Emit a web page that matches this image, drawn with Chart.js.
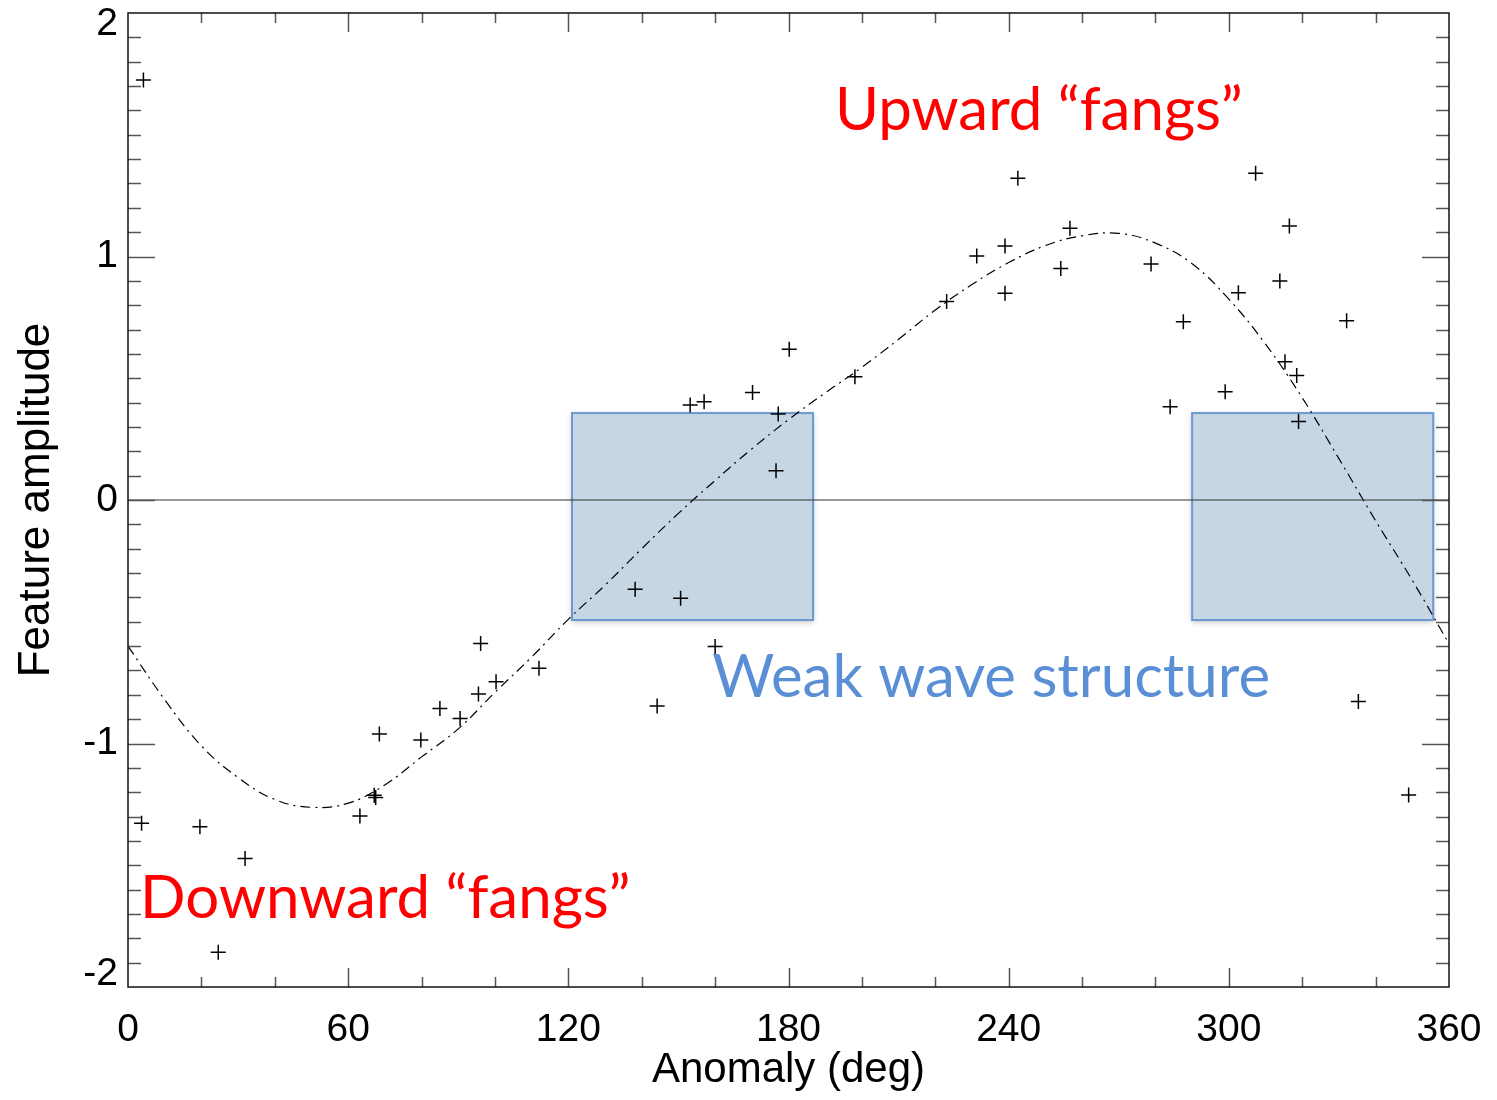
<!DOCTYPE html>
<html>
<head>
<meta charset="utf-8">
<script src="https://cdn.jsdelivr.net/npm/chart.js@4.4.1/dist/chart.umd.min.js"></script>
<style>
  html, body { margin: 0; padding: 0; background: #fff; }
</style>
</head>
<body>
<canvas id="myChart" width="1497" height="1100"></canvas>
<script>
// measured features
const anomaly = [4.2, 3.7, 19.6, 24.6, 31.9, 63.2, 67.1, 67.5, 68.5, 79.8, 85.0, 90.5, 96.1, 95.5,
  100.3, 112.0, 138.2, 144.2, 150.6, 160.0, 153.2, 157.0, 170.2, 177.2, 176.6, 180.2, 198.1,
  223.1, 231.3, 239.0, 239.0, 242.5, 254.2, 256.7, 278.8, 284.0, 287.6, 299.0, 302.6, 307.3,
  313.9, 316.5, 315.3, 318.5, 319.0, 332.1, 335.3, 349.0];
const amplitude = [1.725, -1.328, -1.342, -1.857, -1.472, -1.298, -1.213, -1.222, -0.961, -0.986,
  -0.856, -0.897, -0.589, -0.797, -0.746, -0.691, -0.367, -0.846, -0.404, -0.602, 0.390, 0.404,
  0.441, 0.353, 0.120, 0.619, 0.506, 0.815, 1.002, 1.043, 0.849, 1.321, 0.951, 1.116, 0.969,
  0.383, 0.732, 0.445, 0.851, 1.342, 0.899, 1.125, 0.568, 0.511, 0.322, 0.736, -0.828, -1.211];

// fitted curve, every 10 deg
const fitAnomaly = [0, 10, 20, 30, 40, 50, 60, 70, 80, 90, 100, 110, 120, 130, 140, 150, 160, 170, 180,
  190, 200, 210, 220, 230, 240, 250, 260, 270, 280, 290, 300, 310, 320, 330, 340, 350, 360];
const fitAmplitude = [-0.60, -0.82, -1.01, -1.14, -1.23, -1.262, -1.245, -1.17, -1.055, -0.94, -0.79,
  -0.645, -0.49, -0.35, -0.20, -0.055, 0.08, 0.21, 0.33, 0.44, 0.545, 0.66, 0.78, 0.885, 0.975,
  1.045, 1.085, 1.095, 1.055, 0.97, 0.825, 0.64, 0.42, 0.17, -0.085, -0.33, -0.59];

// shaded ranges: [from deg, to deg, low, high]
const weakRanges = [[121.0, 186.7, -0.493, 0.357], [290.0, 355.7, -0.493, 0.357]];

// text notes: [text, deg, amplitude (baseline), colour]
const notes = [
  ['Upward \u201cfangs\u201d', 192.7, 1.52, '#ff0000'],
  ['Downward \u201cfangs\u201d', 3.3, -1.717, '#ff0000'],
  ['Weak wave structure', 159.2, -0.81, '#5b8fd5']
];

const xMinorStep = 20, xMajorStep = 60;
const yMinorStep = 0.1;

const axisFont = '"Liberation Sans", Arial, Helvetica, sans-serif';
const noteFont = 'Lato, "Open Sans", sans-serif';

const rangesPlugin = {
  id: 'ranges',
  beforeDatasetsDraw(chart) {
    const { ctx, scales: { x, y } } = chart;
    ctx.save();
    weakRanges.forEach(([x0, x1, y0, y1]) => {
      const l = x.getPixelForValue(x0), r = x.getPixelForValue(x1);
      const t = y.getPixelForValue(y1), b = y.getPixelForValue(y0);
      ctx.shadowColor = 'rgba(0,0,0,0.25)';
      ctx.shadowBlur = 6;
      ctx.shadowOffsetY = 2;
      ctx.fillStyle = '#c6d6e5';
      ctx.fillRect(l, t, r - l, b - t);
      ctx.shadowColor = 'transparent';
      ctx.strokeStyle = '#6a98cf';
      ctx.lineWidth = 2;
      ctx.strokeRect(l, t, r - l, b - t);
    });
    ctx.restore();
  }
};

const framePlugin = {
  id: 'frame',
  afterDatasetsDraw(chart) {
    const { ctx, chartArea: a, scales: { x, y } } = chart;
    ctx.save();
    ctx.strokeStyle = '#555';
    ctx.lineWidth = 1.5;
    ctx.beginPath();
    for (let v = xMinorStep; v < 360; v += xMinorStep) {
      const px = Math.round(x.getPixelForValue(v)) + 0.5;
      const len = v % xMajorStep === 0 ? 19 : 10;
      ctx.moveTo(px, a.bottom); ctx.lineTo(px, a.bottom - len);
      ctx.moveTo(px, a.top); ctx.lineTo(px, a.top + len);
    }
    for (let i = -19; i < 20; i++) {
      const v = i * yMinorStep;
      const py = Math.round(y.getPixelForValue(v)) + 0.5;
      const len = i % 10 === 0 ? 27 : 13;
      ctx.moveTo(a.left, py); ctx.lineTo(a.left + len, py);
      ctx.moveTo(a.right, py); ctx.lineTo(a.right - len, py);
    }
    ctx.stroke();
    ctx.strokeStyle = '#111';
    ctx.lineWidth = 1.5;
    ctx.strokeRect(a.left, a.top, a.right - a.left, a.bottom - a.top);

    // y tick labels, end ones kept inside the frame height
    ctx.fillStyle = '#000';
    ctx.font = '39px ' + axisFont;
    ctx.textAlign = 'right';
    ctx.textBaseline = 'middle';
    y.ticks.forEach(t => {
      let py = y.getPixelForValue(t.value);
      py = Math.min(Math.max(py, a.top + 11), a.bottom - 13);
      ctx.fillText(String(t.value), a.left - 10, py);
    });
    ctx.restore();
  },
  afterDraw(chart) {
    const { ctx, scales: { x, y } } = chart;
    ctx.save();
    ctx.font = '60px ' + noteFont;
    ctx.textBaseline = 'alphabetic';
    notes.forEach(([text, dx, dy, color]) => {
      ctx.fillStyle = color;
      ctx.fillText(text, x.getPixelForValue(dx), y.getPixelForValue(dy));
    });
    ctx.restore();
  }
};

const ctx = document.getElementById('myChart').getContext('2d');
new Chart(ctx, {
  type: 'scatter',
  data: {
    datasets: [
      {
        label: 'zero',
        type: 'line',
        data: [{ x: 0, y: 0 }, { x: 360, y: 0 }],
        borderColor: '#333',
        borderWidth: 1.2,
        pointRadius: 0
      },
      {
        label: 'fit',
        type: 'line',
        data: fitAnomaly.map((d, i) => ({ x: d, y: fitAmplitude[i] })),
        borderColor: '#000',
        borderWidth: 1.2,
        borderDash: [10, 5, 2, 5],
        pointRadius: 0,
        tension: 0.4
      },
      {
        label: 'features',
        data: anomaly.map((d, i) => ({ x: d, y: amplitude[i] })),
        pointStyle: 'cross',
        pointRadius: 7.5,
        borderColor: '#000',
        borderWidth: 1.5,
        backgroundColor: '#000'
      }
    ]
  },
  options: {
    responsive: false,
    animation: false,
    devicePixelRatio: 1,
    layout: { padding: { top: 13, right: 48, left: 0, bottom: 0 }, autoPadding: false },
    plugins: { legend: { display: false }, tooltip: { enabled: false } },
    scales: {
      x: {
        type: 'linear', min: 0, max: 360,
        afterFit(s) { s.height = 113; s.paddingLeft = 0; s.paddingRight = 0; },
        grid: { display: false, drawTicks: false },
        border: { display: false },
        ticks: { stepSize: 60, padding: 20, color: '#000', maxRotation: 0,
          font: { family: axisFont, size: 39 } },
        title: { display: true, text: 'Anomaly (deg)', color: '#000', padding: { top: 0 },
          font: { family: axisFont, size: 42 } }
      },
      y: {
        type: 'linear', min: -2, max: 2,
        afterFit(s) { s.width = 128; s.paddingTop = 0; s.paddingBottom = 0; },
        grid: { display: false, drawTicks: false },
        border: { display: false },
        ticks: { stepSize: 1, display: false, font: { family: axisFont, size: 39 } },
        title: { display: true, text: 'Feature amplitude', color: '#000', padding: { top: 10, bottom: 0 },
          font: { family: axisFont, size: 44 } }
      }
    }
  },
  plugins: [rangesPlugin, framePlugin]
});
</script>
</body>
</html>
